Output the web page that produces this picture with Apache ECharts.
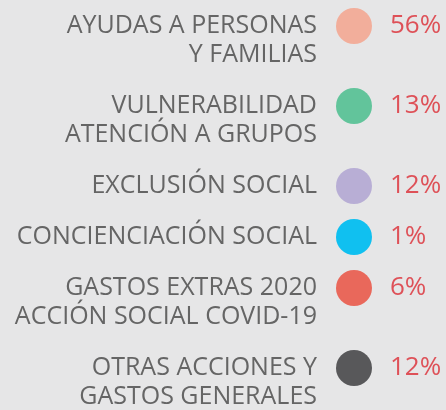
<!DOCTYPE html>
<html>
<head>
<meta charset="utf-8">
<script src="https://cdn.jsdelivr.net/npm/echarts@6/dist/echarts.min.js"></script>
<style>
  html, body { margin: 0; padding: 0; background: #e6e6e7; }
  #chart { width: 446px; height: 410px; }
</style>
</head>
<body>
<div id="chart"></div>
<script>
// datos del gráfico
var labels = [
  "AYUDAS A PERSONAS\nY FAMILIAS",
  "VULNERABILIDAD\nATENCIÓN A GRUPOS",
  "EXCLUSIÓN SOCIAL",
  "CONCIENCIACIÓN SOCIAL",
  "GASTOS EXTRAS 2020\nACCIÓN SOCIAL COVID-19",
  "OTRAS ACCIONES Y\nGASTOS GENERALES"
];
var percents = [56, 13, 12, 1, 6, 12];
var colors = ["#f2ae9b", "#62c49b", "#b8aed5", "#10c0f0", "#e9685b", "#58585a"];

// filas: cada línea extra de texto empuja la siguiente fila hacia abajo
var lineHeight = 29;
var rowGap = 51;
var rowPos = [];
var y = 26;
labels.forEach(function (t, i) {
  rowPos.push(y);
  y += rowGap + lineHeight * (t.split("\n").length - 1);
});

var chart = echarts.init(document.getElementById("chart"));
chart.setOption({
  backgroundColor: "#e6e6e7",
  grid: { left: 336, right: 74, top: 0, bottom: 0 },
  xAxis: { type: "category", data: ["x"], show: false },
  yAxis: { type: "value", min: 0, max: 410, inverse: true, show: false },
  series: [
    {
      type: "scatter",
      symbolSize: 36,
      data: rowPos.map(function (p, i) {
        return { value: ["x", p], name: labels[i], itemStyle: { color: colors[i], opacity: 1 } };
      }),
      label: {
        show: true,
        position: "left",
        distance: 19,
        align: "right",
        verticalAlign: "top",
        offset: [0, -lineHeight / 2],
        lineHeight: lineHeight,
        formatter: "{b}",
        color: "#656565",
        fontFamily: "Open Sans",
        fontSize: 25
      },
      silent: true
    },
    {
      type: "scatter",
      symbolSize: 36,
      itemStyle: { color: "transparent" },
      data: rowPos.map(function (p, i) {
        return { value: ["x", p], name: percents[i] + "%" };
      }),
      label: {
        show: true,
        position: "right",
        distance: 18,
        formatter: "{b}",
        color: "#dc2c35",
        fontFamily: "Open Sans",
        fontSize: 26
      },
      silent: true
    }
  ]
});
</script>
</body>
</html>
